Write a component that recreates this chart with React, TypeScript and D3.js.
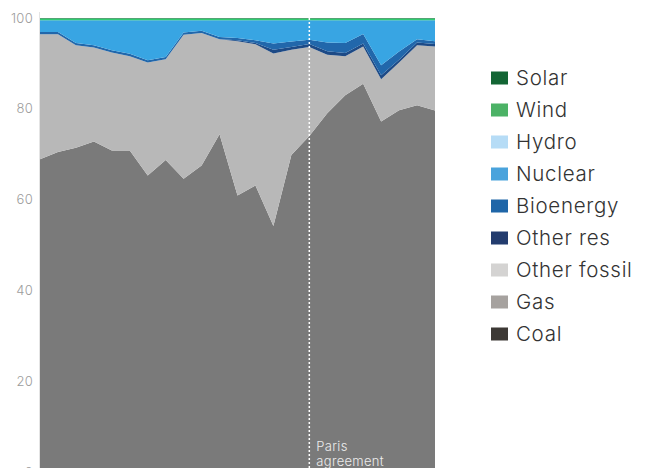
import React from "react";
import * as d3 from "d3";

const years = d3.range(2000, 2023);
// values (% of generation)
const coal = [68.9, 70.5, 71.4, 72.8, 70.8, 70.8, 65.3, 68.7, 64.6, 67.5, 74.4, 60.9, 63.1, 54.2, 69.8, 74.0, 79.0, 83.0, 85.5, 77.2, 79.7, 80.8, 79.6];
const gas = [27.5, 25.9, 22.6, 20.7, 21.6, 20.8, 24.9, 22.2, 31.7, 29.2, 20.9, 34.0, 31.1, 38.0, 23.2, 19.6, 12.9, 8.6, 8.2, 9.3, 10.5, 13.2, 14.1];
const otherFossil = [0, 0, 0, 0, 0, 0, 0, 0, 0, 0, 0, 0, 0, 0, 0, 0, 0, 0, 0, 0, 0, 0, 0];
const otherRes = [0, 0, 0, 0, 0, 0, 0, 0, 0, 0, 0, 0.2, 0.3, 0.8, 0.6, 0.7, 0.8, 0.7, 0.7, 0.9, 0.6, 0.6, 0.6];
const bioenergy = [0.5, 0.5, 0.5, 0.5, 0.5, 0.5, 0.5, 0.5, 0.5, 0.5, 0.5, 0.5, 0.6, 1.4, 1.2, 0.9, 1.9, 2.2, 2.1, 2.2, 1.8, 0.7, 0.6];
const nuclear = [2.6, 2.6, 5.0, 5.5, 6.6, 7.4, 8.8, 8.1, 2.7, 2.3, 3.7, 3.9, 4.4, 5.1, 4.7, 4.3, 4.9, 5.0, 3.0, 9.9, 6.9, 4.2, 4.6];
const hydro = [0, 0, 0, 0, 0, 0, 0, 0, 0, 0, 0, 0, 0, 0, 0, 0, 0, 0, 0, 0, 0, 0, 0];
const wind = [0.4, 0.4, 0.4, 0.4, 0.4, 0.4, 0.4, 0.4, 0.4, 0.4, 0.4, 0.4, 0.4, 0.4, 0.4, 0.4, 0.4, 0.4, 0.4, 0.4, 0.4, 0.4, 0.4];
const solar = [0.1, 0.1, 0.1, 0.1, 0.1, 0.1, 0.1, 0.1, 0.1, 0.1, 0.1, 0.1, 0.1, 0.1, 0.1, 0.1, 0.1, 0.1, 0.1, 0.1, 0.1, 0.1, 0.1];

const stackKeys = ["Coal", "Gas", "Other fossil", "Other res", "Bioenergy", "Nuclear", "Hydro", "Wind", "Solar"];
const seriesValues = [coal, gas, otherFossil, otherRes, bioenergy, nuclear, hydro, wind, solar];
const areaColors = ["#7a7a7a", "#b8b8b8", "#d2d2d2", "#1d4a86", "#2167ab", "#38a5e3", "#b6dcf6", "#2fcc70", "#136534"];

const legendNames = ["Solar", "Wind", "Hydro", "Nuclear", "Bioenergy", "Other res", "Other fossil", "Gas", "Coal"];
const legendColors = ["#136534", "#4cb266", "#b6dcf6", "#4aa3dc", "#1f66a8", "#233c6e", "#d4d3d2", "#a6a29f", "#3d3935"];

const yTicks = [0, 20, 40, 60, 80, 100];
const parisYear = 2015;
const parisLabel = ["Paris", "agreement"];

export default function App() {
  const W = 648, H = 468;
  const x = d3.scaleLinear().domain([2000, 2022]).range([40, 435]);
  const y = d3.scaleLinear().domain([0, 100]).range([472, 18]);

  const table = years.map((yr, i) => {
    const row: any = { year: yr };
    stackKeys.forEach((k, j) => (row[k] = seriesValues[j][i]));
    return row;
  });
  const stacked = d3.stack<any>().keys(stackKeys)(table);
  const area = d3
    .area<any>()
    .x((d) => x(d.data.year))
    .y0((d) => y(d[0]))
    .y1((d) => y(d[1]));

  const font = "Inter, 'Noto Sans', sans-serif";

  return (
    <svg width={W} height={H} style={{ position: "absolute", left: 0, top: 0 }} fontFamily={font}>
      <line x1={39.5} x2={39.5} y1={12} y2={472} stroke="#e4e4e4" />
      {stacked.map((s, i) => (
        <path key={s.key} d={area(s) || ""} fill={areaColors[i]} />
      ))}
      <line
        x1={x(parisYear)}
        x2={x(parisYear)}
        y1={y(100)}
        y2={H}
        stroke="#ffffff"
        strokeWidth={1.5}
        strokeDasharray="2,2"
      />
      {parisLabel.map((t, i) => (
        <text key={t} x={x(parisYear) + 7} y={451 + i * 15} fill="#ececec" fontSize={13} fontWeight={350} letterSpacing={0.3}>
          {t}
        </text>
      ))}
      {yTicks.map((t) => (
        <text key={t} x={33} y={y(t)} dy="0.35em" textAnchor="end" fill="#9c9c9c" fontSize={13} fontWeight={300} letterSpacing={0.3}>
          {t}
        </text>
      ))}
      {legendNames.map((n, i) => {
        const cy = 78 + i * 32;
        return (
          <g key={n}>
            <rect x={491} y={cy - 6.5} width={17} height={13} fill={legendColors[i]} />
            <text x={516} y={cy + 7} fill="#333333" fontSize={20.5} fontWeight={350} letterSpacing={0.7}>
              {n}
            </text>
          </g>
        );
      })}
    </svg>
  );
}
